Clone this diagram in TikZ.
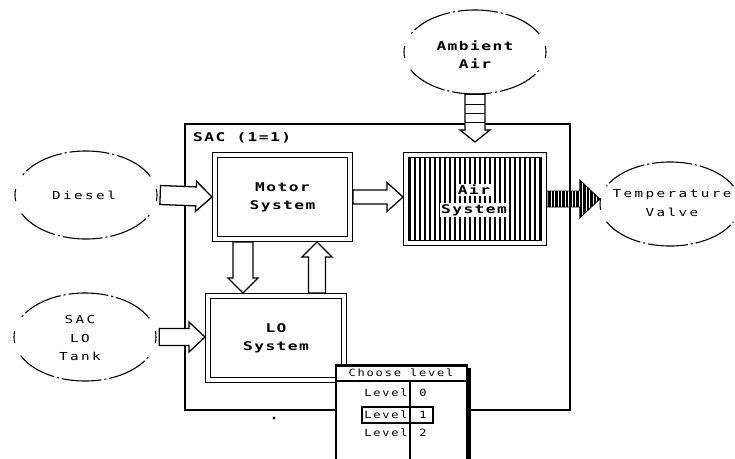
\documentclass[tikz,border=0pt]{standalone}
\usepackage{fontspec}
\usetikzlibrary{calc,shapes.geometric,patterns.meta}
\newfontfamily\pixfont[FakeStretch=1.35,LetterSpace=12]{DejaVu Sans Mono}
\newfontfamily\pixwide[FakeStretch=1.3,LetterSpace=22]{DejaVu Sans Mono}
\newfontfamily\pixmenu[FakeStretch=1.2,LetterSpace=18]{DejaVu Sans Mono}
\tikzset{
  ba sw/.store in=\baSW, ba hw/.store in=\baHW, ba hl/.store in=\baHL,
  ba sw=8.5pt, ba hw=15pt, ba hl=16pt,
  baoutline/.style={draw, line width=1.3pt, line join=miter,
    to path={($(\tikztostart)!\baSW!90:(\tikztotarget)$)
      -- ($($(\tikztotarget)!\baHL!(\tikztostart)$)!\baSW!90:(\tikztotarget)$)
      -- ($($(\tikztotarget)!\baHL!(\tikztostart)$)!\baHW!90:(\tikztotarget)$)
      -- (\tikztotarget)
      -- ($($(\tikztotarget)!\baHL!(\tikztostart)$)!\baHW!-90:(\tikztotarget)$)
      -- ($($(\tikztotarget)!\baHL!(\tikztostart)$)!\baSW!-90:(\tikztotarget)$)
      -- ($(\tikztostart)!\baSW!-90:(\tikztotarget)$) -- cycle}},
  blockarrow/.style={baoutline, fill=white},
  sysfont/.style={font=\pixfont\bfseries\fontsize{12}{18}\selectfont},
  sysbox/.style={draw, line width=1.2pt, double, double distance=4pt, fill=white,
    outer sep=3.2pt, inner sep=0pt, align=center, sysfont},
  extnode/.style={ellipse, inner sep=0pt, minimum width=142pt, minimum height=88pt},
  extline/.style={line width=1.1pt, dash pattern=on 40pt off 3pt on 2pt off 3pt},
  exttext/.style={align=center, font=\pixwide\fontsize{11}{18.5}\selectfont},
  menutext/.style={inner sep=0pt, font=\pixmenu\fontsize{10}{11}\selectfont},
}
\newcommand\extoutline[3]{%
  \draw[extline] ([shift={(25:#2 and #3)}]#1.center) arc[start angle=25,end angle=155,x radius=#2,y radius=#3];
  \draw[extline] ([shift={(205:#2 and #3)}]#1.center) arc[start angle=205,end angle=335,x radius=#2,y radius=#3];
  \draw[line width=1.1pt] ([shift={(172:#2 and #3)}]#1.center) arc[start angle=172,end angle=188,x radius=#2,y radius=#3];
  \draw[line width=1.1pt] ([shift={(-8:#2 and #3)}]#1.center) arc[start angle=-8,end angle=8,x radius=#2,y radius=#3];
}
\begin{document}
\begin{tikzpicture}[x=1pt,y=-1pt]
\useasboundingbox[fill=white] (0,0) rectangle (735,458);

% container
\node[draw, line width=1.4pt, minimum width=385pt, minimum height=286pt, inner sep=0pt] (sac) at (377.5,267) {};
\node[sysfont, anchor=west, inner sep=0pt] (saclabel) at (193,138) {SAC (1=1)};

% external entities
\node[extnode] (diesel) at (86,195) {};
\extoutline{diesel}{71pt}{44pt}
\node[exttext] (dieselt) at (84,195) {Diesel};

\node[extnode] (tank) at (85,337) {};
\extoutline{tank}{71pt}{44pt}
\node[exttext] (tankt) at (80,338) {SAC\\LO\\Tank};

\node[extnode, minimum height=84pt] (ambient) at (475,52) {};
\extoutline{ambient}{71pt}{42pt}
\node[exttext, sysfont] (ambientt) at (475,55) {Ambient\\Air};

\node[extnode, minimum width=140pt, minimum height=84pt] (temp) at (670,204) {};
\extoutline{temp}{70pt}{42pt}
\node[exttext] (tempt) at (672,203) {Temperature\\Valve};

% systems
\node[sysbox, minimum width=134.6pt, minimum height=83.6pt] (motor) at (282.5,197) {Motor\\System};
\node[sysbox, minimum width=137.6pt, minimum height=87.6pt,
  pattern={Lines[angle=90,distance=5pt,line width=2pt]}] (air) at (475,199) {};
\node[sysfont, fill=white, inner sep=1.5pt] (airt1) at (474,190) {Air};
\node[sysfont, fill=white, inner sep=1.5pt] (airt2) at (474,210) {System};
\node[sysbox, minimum width=135.6pt, minimum height=83.6pt] (lo) at (276,338) {LO\\System};

% flows
\draw[blockarrow, ba sw=9.5pt] ([xshift=3pt]diesel.east) to (motor.west);
\draw[blockarrow, ba sw=7pt, ba hw=14.5pt] (motor.east) to (motor.east -| air.west);
\draw[blockarrow] ([xshift=3pt]tank.east) to (tank.east -| lo.west);
\coordinate (dstart) at ($(motor.south west)+(31,0)$);
\coordinate (dend) at (dstart |- lo.north);
\draw[blockarrow, ba sw=10pt, ba hl=15pt] (dstart) to (dend);
\coordinate (ustart) at ($(lo.north west)+(112,0)$);
\coordinate (uend) at (ustart |- motor.south);
\draw[blockarrow, ba hl=15pt] (ustart) to (uend);
\coordinate (aend) at ([yshift=10pt]ambient.south |- air.north);
\draw[blockarrow, ba sw=10pt, ba hl=12pt] (ambient.south) to (aend);
\foreach \yy in {10,19,28}
  \draw[line width=1.2pt] ($(ambient.south)+(-10,\yy)$) -- ($(ambient.south)+(10,\yy)$);
\draw[baoutline, line width=0.8pt, ba sw=8pt, ba hw=19pt, ba hl=20pt, preaction={fill=white},
  pattern={Lines[angle=90,distance=3.5pt,line width=2.4pt]}] (air.east) to (air.east -| temp.west);

% choose-level menu
\fill (466,368) rectangle (471,462);
\node[draw, fill=white, line width=1.6pt, anchor=north west, minimum width=131pt, minimum height=100pt, inner sep=0pt] (menu) at (335,365) {};
\draw[line width=2.6pt] (menu.north west) -- (menu.north east);
\node[menutext] (menuhead) at (401,373) {Choose level};
\draw[line width=1.5pt] (menu.west |- 0,381) coordinate (sepl) -- (menu.east |- sepl);
\draw[line width=1.2pt] (410,381) -- (410,462);
\node[menutext] (lv0) at (386,393) {Level};
\node[menutext] (lv0n) at (423,393) {0};
\node[draw, line width=1.8pt, minimum width=71pt, minimum height=16pt, inner sep=0pt] (lv1box) at (397.5,415) {};
\node[menutext] (lv1) at (386,415) {Level};
\node[menutext] (lv1n) at (423,415) {1};
\node[menutext] (lv2) at (386,433) {Level};
\node[menutext] (lv2n) at (423,433) {2};

\fill (274,418) circle (1.6pt);
\end{tikzpicture}
\end{document}
